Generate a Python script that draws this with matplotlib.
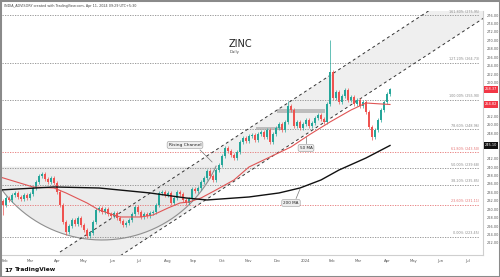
import matplotlib
matplotlib.use('Agg')
import matplotlib.pyplot as plt
import numpy as np
from matplotlib.patches import Rectangle
import matplotlib.transforms as mtransforms

# ---------------- data ----------------
closes = [231.00, 232.66, 232.19, 233.37, 233.85, 232.90, 232.42, 233.37, 232.66, 233.61,
          235.03, 236.45, 237.87, 238.35, 237.16, 236.45, 237.40, 236.21, 234.08, 231.00,
          226.97, 224.60, 226.02, 227.45, 226.50, 227.92, 226.26, 225.08, 223.65, 224.37,
          226.97, 229.82, 230.29, 229.34, 230.05, 228.87, 228.40, 229.11, 227.92, 227.21,
          226.26, 226.74, 227.45, 228.87, 230.53, 229.34, 228.16, 228.87, 228.40, 229.11,
          229.34, 231.00, 233.85, 234.08, 233.37, 233.85, 231.48, 232.66, 234.08, 233.61,
          232.19, 231.48, 232.42, 234.79, 234.32, 235.03, 236.45, 237.40, 239.06, 237.87,
          236.93, 239.29, 240.48, 242.61, 244.51, 243.80, 242.85, 242.14, 243.56, 245.93,
          246.88, 246.17, 247.35, 247.59, 246.40, 247.83, 248.30, 247.11, 248.77, 245.93,
          247.83, 249.25, 250.20, 248.77, 250.67, 254.46, 253.51, 249.72, 250.67, 249.25,
          250.20, 251.14, 249.72, 250.43, 251.62, 252.33, 251.38, 250.67, 254.94, 262.52,
          256.36, 257.78, 255.41, 256.83, 258.25, 255.88, 256.60, 254.94, 255.88, 254.46,
          255.41, 253.00, 249.50, 247.10, 248.77, 251.14, 253.51, 255.41, 257.30, 258.37]
first_open = 232.0
extra_highs = {95: 255.65, 109: 270.10}
extra_lows = {0: 228.63, 21: 223.89, 28: 223.18, 123: 246.40}

ma50_x = [-1, 10, 17, 21, 28, 32, 39, 46, 50, 55, 59, 62, 66, 71, 77, 82, 89, 96, 102, 109, 116, 121, 126, 129]
ma50_y = [237.64, 235.27, 235.03, 233.85, 231.48, 229.82, 228.16, 228.16, 228.63, 230.29, 231.48, 231.71,
          232.66, 234.56, 236.93, 240.01, 242.38, 244.75, 247.59, 250.67, 253.51, 255.17, 254.94, 254.82]
ma200_x = [-1, 17, 32, 49, 61, 68, 82, 92, 99, 106, 112, 121, 129]
ma200_y = [234.56, 235.27, 235.03, 233.85, 232.66, 232.19, 232.90, 233.85, 235.03, 236.93, 239.29, 242.14, 245.10]

fib_low, fib_high = 223.45, 255.90
fib_levels = [0.0, 0.236, 0.382, 0.5, 0.618, 0.786, 1.0, 1.272, 1.618]

channel_upper = [(19, 219.86), (141.33, 276.74)]
channel_shift = 22

arc_center = (33, 252.33)
arc_radii = (41.67, 29.62)
arc_chord = 240.2

month_ticks = [0.7, 9, 18, 26.7, 36.3, 45.3, 55, 63.3, 73, 81.7, 91.3, 100.7, 109.7, 118.3, 128, 136.7, 145.7, 155]
month_labels = ['Feb', 'Mar', 'Apr', 'May', 'Jun', 'Jul', 'Aug', 'Sep', 'Oct', 'Nov', 'Dec', '2024',
                'Feb', 'Mar', 'Apr', 'May', 'Jun', 'Jul']
price_ticks = list(range(222, 277, 2))

# ---------------- figure ----------------
plt.rcParams['font.family'] = ['DejaVu Sans']
fig = plt.figure(figsize=(5, 2.77), dpi=100)
fig.patch.set_facecolor('white')
ax = fig.add_axes([0.004, 1 - 255 / 277, 0.962, (255 - 11) / 277])
ax.set_facecolor('white')
ax.set_xlim(-0.33, 160)
ax.set_ylim(219.15, 276.97)

UP, DN = '#26a69a', '#ef5350'

# rising channel
(ux0, uy0), (ux1, uy1) = channel_upper
slope = (uy1 - uy0) / (ux1 - ux0)
xc = np.array([ux0, 170.0])
ax.fill_between(xc, uy0 + slope * (xc - ux0 - channel_shift), uy0 + slope * (xc - ux0),
                color='#e3e3e3', alpha=0.55, lw=0, zorder=0)
ax.plot(xc, uy0 + slope * (xc - ux0), color='#333333', lw=0.7, ls=(0, (3, 3)), zorder=2)
ax.plot(xc, uy0 + slope * (xc - ux0 - channel_shift), color='#333333', lw=0.7, ls=(0, (3, 3)), zorder=2)

# arc (rounding bottom)
cx, cy = arc_center
ra, rb = arc_radii
s = (arc_chord - cy) / rb
t0 = np.pi + np.arcsin(-s)
t = np.linspace(t0, 3 * np.pi - t0, 200)
axc = cx + ra * np.cos(t)
ayc = cy + rb * np.sin(t)
ax.fill_between(axc, ayc, arc_chord, color='#e0e0e0', alpha=0.6, lw=0, zorder=0)
ax.plot(axc, ayc, color='#8f8f8f', lw=0.8, zorder=1)

# fib levels
fib_colors = {0.236: '#e57373', 0.618: '#e57373'}
for lv in fib_levels:
    val = fib_low + lv * (fib_high - fib_low)
    col = fib_colors.get(lv, '#8a8a8a')
    ax.plot([-0.33, 158.7], [val, val], color=col, lw=0.6, ls=(0, (1.5, 1.5)), zorder=1)
    ax.text(158.7, val + 0.35, f'{lv * 100:.2f}% ({val:.2f})', fontsize=2.4, color=col,
            ha='right', va='bottom', zorder=3)

# zone rectangles
ax.add_patch(Rectangle((91.3, 252.8), 16.0, 0.95, color='#a8a8a8', alpha=0.7, lw=0, zorder=1))
ax.add_patch(Rectangle((84.3, 248.77), 8.4, 0.71, color='#a8a8a8', alpha=0.7, lw=0, zorder=1))

# candles
opens = [first_open] + closes[:-1]
for i, (o, c) in enumerate(zip(opens, closes)):
    col = UP if c >= o else DN
    hi = extra_highs.get(i, max(o, c) + 0.4)
    lo = extra_lows.get(i, min(o, c) - 0.4)
    ax.vlines(i, lo, hi, color=col, lw=0.5, zorder=4)
    h = max(abs(c - o), 0.12)
    ax.bar(i, h, bottom=min(o, c), width=0.62, color=col, lw=0, zorder=5)

# moving averages
ax.plot(ma50_x, ma50_y, color='#e05555', lw=0.8, zorder=6)
ax.plot(ma200_x, ma200_y, color='#111111', lw=1.0, zorder=6)

# annotations
box = dict(boxstyle='round,pad=0.35,rounding_size=0.4', fc='#eeeeee', ec='#9a9a9a', lw=0.4)
ax.text(60.67, 245.22, 'Rising Channel', fontsize=3.2, color='#222', ha='center', va='center',
        bbox=box, zorder=8)
ax.plot([65.7, 69.7], [244.03, 241.19], color='#777', lw=0.5, zorder=7)
ax.text(101, 244.51, '50 MA', fontsize=3.0, color='#222', ha='center', va='center', bbox=box, zorder=8)
ax.plot([101, 101], [245.6, 247.2], color='#777', lw=0.5, zorder=7)
ax.text(96, 231.48, '200 MA', fontsize=3.0, color='#222', ha='center', va='center', bbox=box, zorder=8)
ax.plot([97.7, 99], [232.54, 234.8], color='#777', lw=0.5, zorder=7)

# price labels on axis (hide tick labels underneath, as TradingView does)
price_marks = [(closes[-1], '#f23645'), (ma50_y[-1], '#f23645'), (ma200_y[-1], '#111111')]
shown_ticks = [v for v in price_ticks if all(abs(v - pm) > 1.3 for pm, _ in price_marks)]

# axes styling
for sp in ['top', 'left']:
    ax.spines[sp].set_visible(False)
ax.spines['right'].set_color('#cfcfcf')
ax.spines['bottom'].set_color('#cfcfcf')
ax.spines['right'].set_linewidth(0.8)
ax.spines['bottom'].set_linewidth(0.8)
ax.yaxis.tick_right()
ax.set_yticks(shown_ticks)
ax.set_yticklabels([f'{v:.2f}' for v in shown_ticks])
ax.tick_params(axis='y', length=0, pad=2.5, labelsize=2.5, labelcolor='#555555')
ax.set_xticks(month_ticks)
ax.set_xticklabels(month_labels)
ax.tick_params(axis='x', length=0, pad=3, labelsize=2.7, labelcolor='#555555')

trans = mtransforms.blended_transform_factory(ax.transAxes, ax.transData)
for val, fc in price_marks:
    ax.text(1.004, val, f'{val:.2f}', transform=trans, fontsize=2.5, color='white',
            ha='left', va='center', clip_on=False, zorder=10,
            bbox=dict(boxstyle='square,pad=0.3', fc=fc, ec='none'))

# titles and texts
fig.text(0.458, 1 - 47 / 277, 'ZINC', fontsize=7, color='#222', ha='left', va='baseline')
fig.text(0.460, 1 - 53 / 277, 'Daily', fontsize=2.8, color='#444', ha='left', va='baseline')
fig.text(0.008, 1 - 6 / 277, 'INDIA_ADVISORY created with TradingView.com, Apr 11, 2024 09:29 UTC+5:30',
         fontsize=2.4, color='#444', ha='left', va='center')
fig.text(0.008, 1 - 270 / 277, '17', fontsize=4.6, color='#111', weight='heavy', ha='left', va='center')
fig.text(0.030, 1 - 270 / 277, 'TradingView', fontsize=4.2, color='#111', weight='bold', ha='left', va='center')

fig.patches.append(Rectangle((0, 0), 1, 1, transform=fig.transFigure, fill=False,
                             ec='#8a8a8a', lw=2.2, zorder=20))

fig.savefig('out.png', dpi=100)
